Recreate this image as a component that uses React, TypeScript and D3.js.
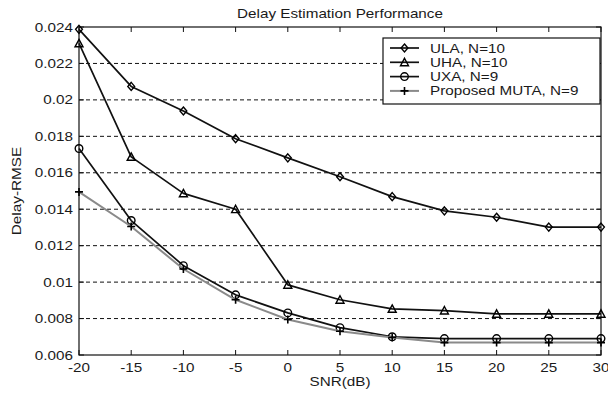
import React from "react";
import * as d3 from "d3";

const snr = [-20, -15, -10, -5, 0, 5, 10, 15, 20, 25, 30];
const ula = [0.02387, 0.02074, 0.01939, 0.01787, 0.01682, 0.01578, 0.01469, 0.01391, 0.01356, 0.01302, 0.01302];
const uha = [0.0231, 0.01687, 0.01487, 0.014, 0.00985, 0.00903, 0.00853, 0.00844, 0.00826, 0.00826, 0.00826];
const uxa = [0.01733, 0.01338, 0.0109, 0.0093, 0.00831, 0.0075, 0.007, 0.0069, 0.0069, 0.0069, 0.0069];
const muta = [0.01495, 0.01305, 0.01072, 0.00903, 0.00795, 0.0073, 0.00696, 0.00668, 0.00668, 0.00668, 0.00668];
const yTicks = [0.006, 0.008, 0.01, 0.012, 0.014, 0.016, 0.018, 0.02, 0.022, 0.024];
const yTickLabels = ["0.006", "0.008", "0.01", "0.012", "0.014", "0.016", "0.018", "0.02", "0.022", "0.024"];
const seriesNames = ["ULA, N=10", "UHA, N=10", "UXA, N=9", "Proposed MUTA, N=9"];

const W = 608;
const H = 393;
const left = 79;
const right = 601;
const top = 27;
const bottom = 355;
const font = "'Liberation Sans', Arial, sans-serif";
const fs = 12.5;
const sx = 1.22; // text is drawn a little wider than the font's natural width
const ink = "#1a1a1a";

type Marker = "diamond" | "triangle" | "circle" | "plus";

function MarkerShape({ type, x, y }: { type: Marker; x: number; y: number }) {
  const s = 4;
  if (type === "diamond") {
    return <path d={`M${x},${y - s} L${x + s * 0.85},${y} L${x},${y + s} L${x - s * 0.85},${y} Z`} fill="none" stroke="#000" strokeWidth={1.4} />;
  }
  if (type === "triangle") {
    return <path d={`M${x},${y - s} L${x + s},${y + s * 0.85} L${x - s},${y + s * 0.85} Z`} fill="none" stroke="#000" strokeWidth={1.4} />;
  }
  if (type === "circle") {
    return <circle cx={x} cy={y} r={3.8} fill="none" stroke="#000" strokeWidth={1.4} />;
  }
  return <path d={`M${x - 4},${y} L${x + 4},${y} M${x},${y - 4} L${x},${y + 4}`} stroke="#000" strokeWidth={1.6} />;
}

function Label({
  x,
  y,
  anchor = "start",
  size = fs,
  children,
}: {
  x: number;
  y: number;
  anchor?: "start" | "middle" | "end";
  size?: number;
  children: React.ReactNode;
}) {
  return (
    <text transform={`translate(${x},${y}) scale(${sx},1)`} textAnchor={anchor} fontSize={size} fontFamily={font} fill={ink}>
      {children}
    </text>
  );
}

export default function App() {
  const x = d3.scaleLinear().domain([-20, 30]).range([left, right]);
  const y = d3.scaleLinear().domain([0.006, 0.024]).range([bottom, top]);
  const line = d3
    .line<number>()
    .x((_, i) => x(snr[i]))
    .y((d) => y(d));

  const series: { vals: number[]; marker: Marker; color: string; width: number }[] = [
    { vals: ula, marker: "diamond", color: "#111", width: 1.7 },
    { vals: uha, marker: "triangle", color: "#111", width: 1.7 },
    { vals: uxa, marker: "circle", color: "#111", width: 1.7 },
    { vals: muta, marker: "plus", color: "#8a8a8a", width: 2 },
  ];

  const legX = 383;
  const legY = 38;
  const legW = 217;
  const legH = 66;

  return (
    <svg width={W} height={H} style={{ display: "block", position: "absolute", left: 0, top: 0, background: "#fff" }}>
      <rect x={0} y={0} width={W} height={H} fill="#fff" />
      {/* horizontal dashed grid */}
      {yTicks.map((t) =>
        t > 0.006 && t < 0.024 ? (
          <line key={t} x1={left} x2={right} y1={y(t)} y2={y(t)} stroke="#111" strokeWidth={1} strokeDasharray="4,3" />
        ) : null
      )}
      {/* axes box */}
      <rect x={left} y={top} width={right - left} height={bottom - top} fill="none" stroke="#111" strokeWidth={1.2} />
      {/* x ticks */}
      {snr.map((v) => (
        <g key={v}>
          <line x1={x(v)} x2={x(v)} y1={bottom} y2={bottom - 5} stroke="#111" />
          <line x1={x(v)} x2={x(v)} y1={top} y2={top + 5} stroke="#111" />
          <Label x={x(v)} y={372} anchor="middle">
            {v}
          </Label>
        </g>
      ))}
      {/* y ticks */}
      {yTicks.map((t, i) => (
        <g key={t}>
          <line x1={left} x2={left + 5} y1={y(t)} y2={y(t)} stroke="#111" />
          <line x1={right} x2={right - 5} y1={y(t)} y2={y(t)} stroke="#111" />
          <Label x={left - 6} y={y(t) + 4.5} anchor="end">
            {yTickLabels[i]}
          </Label>
        </g>
      ))}
      {/* data */}
      {series.map((s, k) => (
        <g key={k}>
          <path d={line(s.vals) || ""} fill="none" stroke={s.color} strokeWidth={s.width} strokeLinejoin="round" />
          {s.vals.map((v, i) => (
            <MarkerShape key={i} type={s.marker} x={x(snr[i])} y={y(v)} />
          ))}
        </g>
      ))}
      {/* legend */}
      <rect x={legX} y={legY} width={legW} height={legH} fill="#fff" stroke="#111" strokeWidth={1.2} />
      {series.map((s, k) => {
        const ly = legY + 10 + k * 14.3;
        return (
          <g key={k}>
            <line x1={legX + 7} x2={legX + 36} y1={ly} y2={ly} stroke={s.color} strokeWidth={s.width} />
            <MarkerShape type={s.marker} x={legX + 21.5} y={ly} />
            <Label x={legX + 47} y={ly + 4.5}>
              {seriesNames[k]}
            </Label>
          </g>
        );
      })}
      <Label x={(left + right) / 2} y={18} anchor="middle">
        Delay Estimation Performance
      </Label>
      <Label x={(left + right) / 2} y={386} anchor="middle">
        SNR(dB)
      </Label>
      {/* y-axis title, drawn tall and narrow */}
      <text
        transform={`translate(21,${(top + bottom) / 2}) rotate(-90) scale(1.28,1)`}
        textAnchor="middle"
        fontSize={12}
        fontFamily={font}
        fill={ink}
      >
        Delay-RMSE
      </text>
    </svg>
  );
}
